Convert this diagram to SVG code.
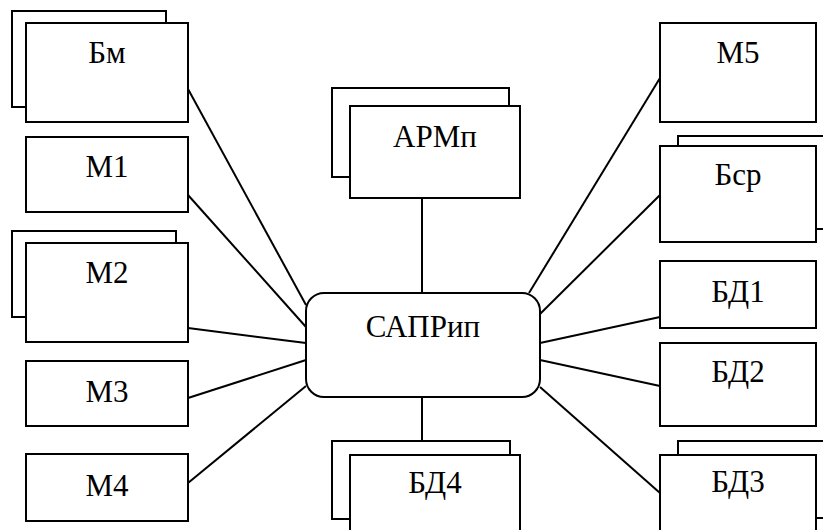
<svg xmlns="http://www.w3.org/2000/svg" width="823" height="530" viewBox="0 0 823 530">
<style>
.b{fill:#fff;stroke:#000;stroke-width:2}
.c line{stroke:#000;stroke-width:2}
</style>
<rect width="823" height="530" fill="#fff"/>
<g id="connectors" class="c">
<line x1="188" y1="89" x2="306" y2="305"/>
<line x1="188" y1="195" x2="306" y2="327"/>
<line x1="188" y1="328" x2="306" y2="343"/>
<line x1="188" y1="398" x2="306" y2="360"/>
<line x1="188" y1="483" x2="306" y2="386"/>
<line x1="422" y1="198" x2="422" y2="293"/>
<line x1="422" y1="397" x2="422" y2="441"/>
<line x1="660" y1="78" x2="529" y2="293"/>
<line x1="660" y1="195" x2="540" y2="314"/>
<line x1="660" y1="317" x2="540" y2="343"/>
<line x1="660" y1="386" x2="540" y2="360"/>
<line x1="660" y1="493" x2="540" y2="387"/>
</g>
<g font-family="Liberation Serif, DejaVu Serif, serif" font-size="31" text-anchor="middle" fill="#000">
<g id="Bm"><rect class="b" x="12" y="11" width="154" height="96"/><rect class="b" x="26" y="23" width="162" height="99"/><text x="107" y="63">Бм</text></g>
<g id="M1"><rect class="b" x="26" y="137" width="162" height="75"/><text x="107" y="177">М1</text></g>
<g id="M2"><rect class="b" x="12" y="231" width="164" height="86"/><rect class="b" x="26" y="243" width="162" height="99"/><text x="107" y="283">М2</text></g>
<g id="M3"><rect class="b" x="26" y="361" width="162" height="65"/><text x="107" y="402">М3</text></g>
<g id="M4"><rect class="b" x="26" y="454" width="162" height="67"/><text x="107" y="496">М4</text></g>
<g id="ARMp"><rect class="b" x="332" y="88" width="177" height="89"/><rect class="b" x="350" y="106" width="170" height="92"/><text x="435" y="147">АРМп</text></g>
<g id="SAPRip"><rect class="b" x="306" y="293" width="234" height="104" rx="18" ry="18"/><text x="423" y="337">САПРип</text></g>
<g id="BD4"><rect class="b" x="332" y="441" width="178" height="78"/><rect class="b" x="350" y="455" width="170" height="90"/><text x="435" y="493">БД4</text></g>
<g id="M5"><rect class="b" x="660" y="23" width="156" height="99"/><text x="738" y="63">М5</text></g>
<g id="Bsr"><rect class="b" x="678" y="136" width="162" height="93"/><rect class="b" x="660" y="146" width="156" height="96"/><text x="738" y="185">Бср</text></g>
<g id="BD1"><rect class="b" x="660" y="261" width="156" height="67"/><text x="738" y="302">БД1</text></g>
<g id="BD2"><rect class="b" x="660" y="343" width="156" height="83"/><text x="738" y="382">БД2</text></g>
<g id="BD3"><rect class="b" x="678" y="441" width="162" height="77"/><rect class="b" x="660" y="455" width="156" height="90"/><text x="738" y="492">БД3</text></g>
</g>
</svg>
